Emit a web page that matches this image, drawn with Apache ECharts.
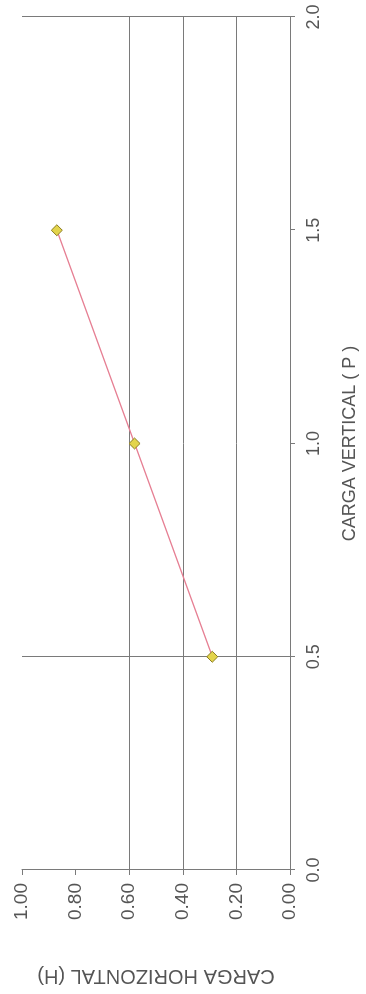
<!DOCTYPE html>
<html>
<head>
<meta charset="utf-8">
<script src="https://cdn.jsdelivr.net/npm/echarts@6/dist/echarts.min.js"></script>
<style>
html,body{margin:0;padding:0;background:#fff;overflow:hidden;width:366px;height:994px;}
#chart{position:absolute;left:0;top:0;width:994px;height:366px;transform-origin:0 0;transform:translateY(994px) rotate(-90deg);}
</style>
</head>
<body>
<div id="chart"></div>
<script>
// Data read from the (rotated) reference
const cargaVertical = [0.5, 1.0, 1.5];          // P
const cargaHorizontal = [0.29, 0.58, 0.87];     // H
const xTicks = [0, 0.5, 1.0, 1.5, 2.0];
const yTicks = [0, 0.2, 0.4, 0.6, 0.8, 1.0];
const visibleHGrid = [0.2, 0.4, 0.6];
const visibleVGrid = [0.5, 2.0];
const xName = 'CARGA VERTICAL ( P )';
const yName = 'CARGA HORIZONTAL (H)';

const gridColor = '#7a7a7a';
const textColor = '#555';
const font = '"Liberation Sans", Arial, sans-serif';

const chart = echarts.init(document.getElementById('chart'), null, {renderer: 'canvas'});
chart.setOption({
  animation: false,
  backgroundColor: '#fff',
  grid: {left: 122, right: 17, top: 22, bottom: 76},
  xAxis: {
    type: 'value', min: xTicks[0], max: xTicks[xTicks.length - 1], interval: 0.5,
    name: xName, nameLocation: 'middle', nameGap: 51,
    nameTextStyle: {color: '#555', fontSize: 18, fontFamily: font},
    axisLine: {show: true, lineStyle: {color: gridColor, width: 1}},
    axisTick: {show: true, length: 5, lineStyle: {color: gridColor}},
    axisLabel: {color: textColor, fontSize: 18, fontFamily: font, margin: 15,
      formatter: v => v.toFixed(1)},
    splitLine: {show: false}
  },
  yAxis: {
    type: 'value', min: yTicks[0], max: yTicks[yTicks.length - 1], interval: 0.2,
    name: yName, nameLocation: 'middle', nameGap: 96,
    nameTextStyle: {color: '#555', fontSize: 20, fontFamily: font},
    axisLine: {show: true, lineStyle: {color: gridColor, width: 1}},
    axisTick: {show: true, length: 5, lineStyle: {color: gridColor}},
    axisLabel: {color: textColor, fontSize: 19, fontFamily: font, margin: 13,
      formatter: v => v.toFixed(2)},
    splitLine: {show: false}
  },
  series: [{
    type: 'line',
    data: cargaVertical.map((p, i) => [p, cargaHorizontal[i]]),
    symbol: 'diamond', symbolSize: 11,
    itemStyle: {color: '#e3d44c', borderColor: '#8c7d22', borderWidth: 1},
    lineStyle: {color: '#e67f93', width: 1.3},
    z: 5,
    markLine: {
      silent: true, symbol: 'none', label: {show: false},
      lineStyle: {color: gridColor, type: 'solid', width: 1},
      data: visibleHGrid.map(v => ({yAxis: v})).concat(visibleVGrid.map(v => ({xAxis: v})))
    }
  }]
});
</script>
</body>
</html>
